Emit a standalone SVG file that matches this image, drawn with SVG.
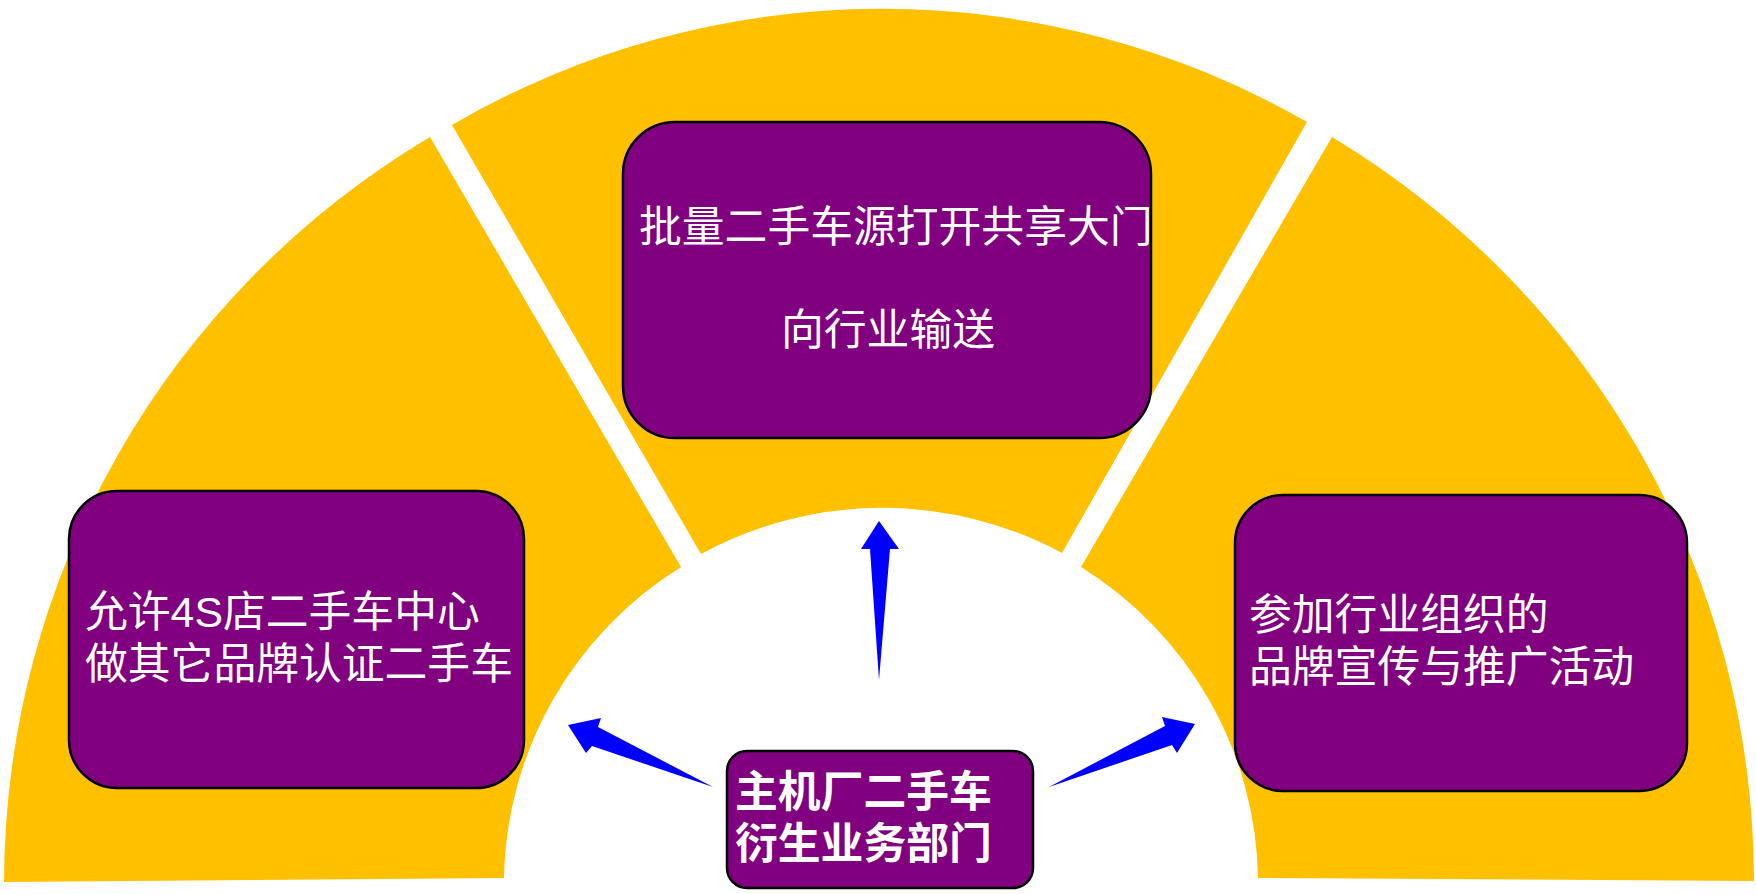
<svg xmlns="http://www.w3.org/2000/svg" width="1756" height="894" viewBox="0 0 1756 894">
<style>
.seg{fill:#FFC000;stroke:none}
.box{fill:#800080;stroke:#000;stroke-width:2.5}
.t{fill:#fff;font-family:"Liberation Sans","Noto Sans CJK SC",sans-serif;font-size:42.8px}
.b{font-weight:bold}
.arr{fill:#0000FF;stroke:none}
</style>
<rect width="1756" height="894" fill="#fff"/>
<g id="segments">
<path id="seg-left" class="seg" d="M 4 882 A 877 871 0 0 1 430 137 L 681 567 A 377 374 0 0 0 504 878 Z"/>
<path id="seg-middle" class="seg" d="M 452 125 A 850 845 0 0 1 1307 122 L 1062 553 A 377 374 0 0 0 701 554 Z"/>
<path id="seg-right" class="seg" d="M 1332 137 A 877 871 0 0 1 1754 881 L 1258 878 A 377 374 0 0 0 1081 567 Z"/>
</g>
<g id="connectors">
<polygon class="arr" points="879,521 899,549 890,549 879,680 870,549 861,549"/>
<polygon class="arr" points="568,725 601,718 598,727 713,787 592,746 586,753"/>
<polygon class="arr" points="1195,724 1177,753 1172,745 1049,787 1165,726 1162,717"/>
</g>
<g id="node-top">
<rect class="box" x="623" y="122" width="528" height="316" rx="52" ry="52"/>
<text class="t" x="639" y="242">批量二手车源打开共享大门</text>
<text class="t" x="781" y="345">向行业输送</text>
</g>
<g id="node-left">
<rect class="box" x="69" y="491" width="455" height="297" rx="48" ry="48"/>
<text class="t" x="85" y="627">允许4S店二手车中心</text>
<text class="t" x="85" y="679">做其它品牌认证二手车</text>
</g>
<g id="node-right">
<rect class="box" x="1235" y="495" width="452" height="296" rx="48" ry="48"/>
<text class="t" x="1249" y="630">参加行业组织的</text>
<text class="t" x="1249" y="682">品牌宣传与推广活动</text>
</g>
<g id="node-center">
<rect class="box" x="727" y="751" width="306" height="137" rx="20" ry="20"/>
<text class="t b" x="735" y="807">主机厂二手车</text>
<text class="t b" x="735" y="859">衍生业务部门</text>
</g>
</svg>
